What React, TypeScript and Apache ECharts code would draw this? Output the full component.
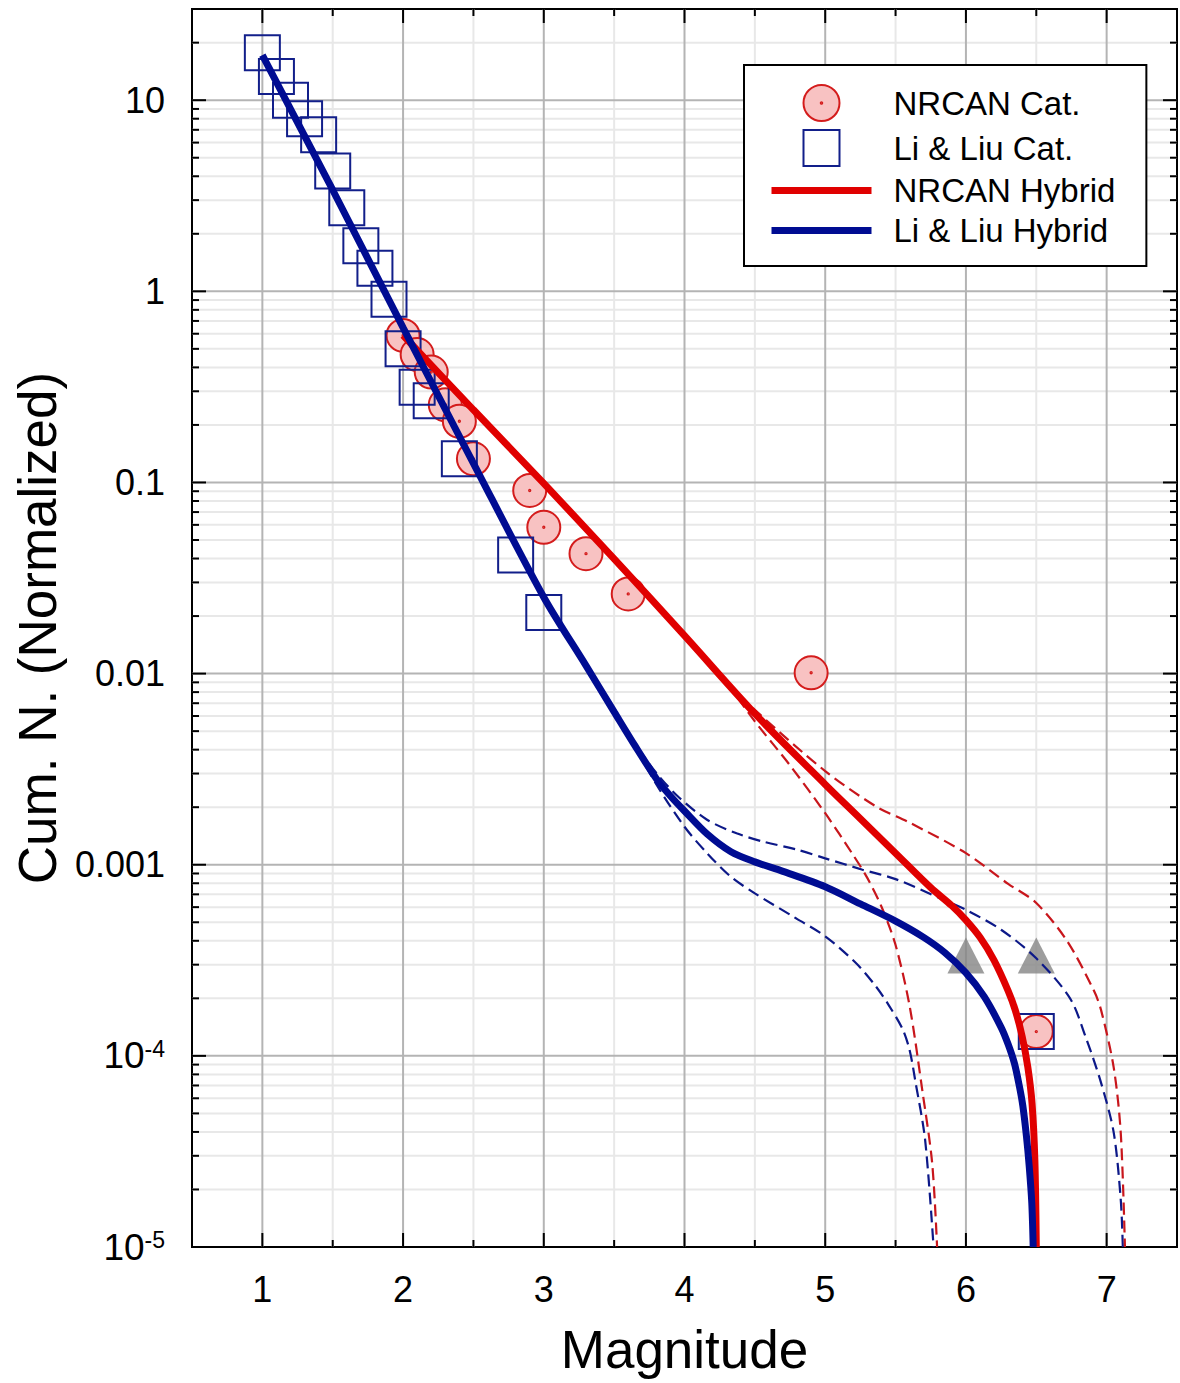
import React, { useEffect, useRef } from "react";
import * as echarts from "echarts";

// ---- Catalogue points (magnitude, normalised cumulative count) ----
const nrcanCatMag = [2.0, 2.1, 2.2, 2.3, 2.4, 2.5, 2.9, 3.0, 3.3, 3.6, 4.9, 6.5];
const nrcanCatN = [0.588, 0.467, 0.378, 0.255, 0.209, 0.133, 0.0908, 0.0583, 0.0424, 0.0261, 0.0101, 0.000134];

const liLiuCatMag = [1.0, 1.1, 1.2, 1.3, 1.4, 1.5, 1.6, 1.7, 1.8, 1.9, 2.0, 2.1, 2.2, 2.4, 2.8, 3.0, 6.5];
const liLiuCatN = [17.7, 13.3, 10.0, 8.0, 6.6, 4.26, 2.74, 1.73, 1.32, 0.91, 0.5, 0.315, 0.268, 0.133, 0.0417, 0.0209, 0.000134];

const paleoMag = [6.0, 6.5];
const paleoN = [0.000335, 0.000335];

// ---- Hybrid recurrence curves ----
const nrcanHybridMag = [2.0, 2.5, 3.0, 3.5, 4.0, 4.5, 5.0, 5.25, 5.5, 5.75, 5.9, 6.0, 6.1, 6.2, 6.3, 6.35, 6.4, 6.44, 6.47, 6.49, 6.5];
const nrcanHybridN = [0.589, 0.24, 0.0989, 0.0398, 0.0158, 0.00617, 0.00263, 0.00174, 0.00115, 0.000759, 0.00061, 0.000513, 0.000417, 0.000316, 0.000219, 0.000174, 0.000126, 0.0000871, 0.0000562, 0.0000282, 0.00001];

const nrcanLowMag = [4.05, 4.3, 4.5, 4.75, 5.0, 5.2, 5.3, 5.4, 5.5, 5.6, 5.69, 5.76, 5.795];
const nrcanLowN = [0.0146, 0.00891, 0.00562, 0.00331, 0.00186, 0.00112, 0.000851, 0.000603, 0.00038, 0.000182, 0.000066, 0.0000275, 0.00001];

const nrcanHighMag = [4.05, 4.3, 4.5, 5.0, 5.36, 5.6, 6.0, 6.3, 6.5, 6.72, 6.91, 6.96, 7.05, 7.1, 7.13];
const nrcanHighN = [0.0146, 0.00912, 0.00646, 0.00309, 0.00202, 0.00166, 0.00115, 0.000794, 0.000631, 0.000398, 0.000219, 0.000174, 0.0000871, 0.0000398, 0.00001];

const liLiuHybridMag = [1.0, 1.5, 2.0, 2.5, 3.0, 3.3, 3.5, 3.65, 3.8, 3.9, 4.0, 4.16, 4.33, 4.5, 4.7, 5.0, 5.25, 5.5, 5.7, 5.85, 6.0, 6.13, 6.25, 6.3, 6.345, 6.38, 6.404, 6.43, 6.45, 6.468, 6.478];
const liLiuHybridN = [17.2, 3.39, 0.646, 0.126, 0.0251, 0.011, 0.00631, 0.00417, 0.00282, 0.00229, 0.00191, 0.00145, 0.00117, 0.001035, 0.000923, 0.000767, 0.000624, 0.000507, 0.000417, 0.000347, 0.000272, 0.000204, 0.000141, 0.000115, 0.0000912, 0.0000692, 0.000055, 0.000038, 0.0000263, 0.000017, 0.00001];

const liLiuHighMag = [3.6, 3.8, 3.95, 4.16, 4.37, 4.56, 4.8, 5.0, 5.265, 5.5, 5.83, 6.0, 6.25, 6.5, 6.74, 6.85, 6.96, 7.05, 7.1, 7.115];
const liLiuHighN = [0.0048, 0.00302, 0.00229, 0.00172, 0.00146, 0.00132, 0.0012, 0.00108, 0.000942, 0.000841, 0.000661, 0.000581, 0.000457, 0.000324, 0.0002, 0.000126, 0.0000724, 0.0000398, 0.0000178, 0.00001];

const liLiuLowMag = [3.6, 3.8, 4.0, 4.16, 4.325, 4.5, 4.77, 5.0, 5.22, 5.36, 5.45, 5.55, 5.6, 5.64, 5.71, 5.77];
const liLiuLowN = [0.0048, 0.00263, 0.00158, 0.00115, 0.000871, 0.000708, 0.000537, 0.000422, 0.000305, 0.000231, 0.000185, 0.000138, 0.000107, 0.0000741, 0.0000363, 0.00001];

// ---- Axes ----
const X_MIN = 0.5;
const X_MAX = 7.5;
const Y_MIN = 1e-5;
const Y_MAX = 30;
const xGridMag = [1, 1.5, 2, 2.5, 3, 3.5, 4, 4.5, 5, 5.5, 6, 6.5, 7];
const yDecades = [1e-4, 1e-3, 1e-2, 0.1, 1, 10];
const yTickExps = [-5, -4, -3, -2, -1, 0, 1];
const yTickText = ["{b|10}{s|-5}", "{b|10}{s|-4}", "0.001", "0.01", "0.1", "1", "10"];

const FONT = "'Liberation Sans', Arial, Helvetica, sans-serif";
const RED = "#e00000";
const BLUE = "#000c92";
const RED_DASH = "#c8161c";
const BLUE_DASH = "#0c1888";
const MAJOR_GRID = "#b4b4b4";
const MINOR_GRID = "#e8e8e8";

const CIRCLE_DOT =
  "path://M0,-10A10,10,0,1,1,0,10A10,10,0,1,1,0,-10ZM0,-0.4A0.4,0.4,0,1,1,0,0.4A0.4,0.4,0,1,1,0,-0.4Z";
const SQUARE = "path://M0,0H10V10H0Z";

const pairs = (xs: number[], ys: number[]) => xs.map((x, i) => [x, ys[i]]);

// grid lines: [x, y, kind] kind 0 minor-h, 1 minor-v, 2 major-h, 3 major-v
function gridLineData() {
  const minorH: number[][] = [];
  [1e-5, 1e-4, 1e-3, 1e-2, 0.1, 1, 10].forEach((d) => {
    [2, 3, 4, 5, 6, 7, 8, 9].forEach((k) => {
      const v = k * d;
      if (v < Y_MAX) minorH.push([1, v, 0]);
    });
  });
  const minorV = xGridMag.filter((m) => !Number.isInteger(m)).map((m) => [m, 1, 1]);
  const majorH = yDecades.map((v) => [1, v, 2]);
  const majorV = xGridMag.filter((m) => Number.isInteger(m)).map((m) => [m, 1, 3]);
  return [...minorH, ...minorV, ...majorH, ...majorV];
}

function renderGridLine(_params: any, api: any) {
  const kind = api.value(2);
  const major = kind >= 2;
  const color = major ? MAJOR_GRID : MINOR_GRID;
  const len = major ? 14 : 7;
  const tick = { stroke: "#000", lineWidth: 2 };
  if (kind === 0 || kind === 2) {
    const v = api.value(1);
    const l = api.coord([X_MIN, v]);
    const r = api.coord([X_MAX, v]);
    return {
      type: "group",
      children: [
        { type: "line", shape: { x1: l[0], y1: l[1], x2: r[0], y2: r[1] }, style: { stroke: color, lineWidth: 2 } },
        { type: "line", shape: { x1: l[0], y1: l[1], x2: l[0] + len, y2: l[1] }, style: tick },
        { type: "line", shape: { x1: r[0], y1: r[1], x2: r[0] - len, y2: r[1] }, style: tick },
      ],
    };
  }
  const m = api.value(0);
  const t = api.coord([m, Y_MAX]);
  const b = api.coord([m, Y_MIN]);
  return {
    type: "group",
    children: [
      { type: "line", shape: { x1: t[0], y1: t[1], x2: b[0], y2: b[1] }, style: { stroke: color, lineWidth: 2 } },
      { type: "line", shape: { x1: b[0], y1: b[1], x2: b[0], y2: b[1] - len }, style: tick },
      { type: "line", shape: { x1: t[0], y1: t[1], x2: t[0], y2: t[1] + len }, style: tick },
    ],
  };
}

function yLabel(v: number) {
  const lv = Math.log10(v);
  const e = Math.round(lv);
  if (Math.abs(lv - e) > 0.01) return "";
  const i = yTickExps.indexOf(e);
  return i < 0 ? "" : yTickText[i];
}

const curve = (name: string, xs: number[], ys: number[], color: string, width: number, z: number, dash?: number[]) => ({
  name,
  type: "line",
  data: pairs(xs, ys),
  symbol: "none",
  showSymbol: false,
  smooth: 0.3,
  lineStyle: { color, width, type: dash ?? "solid" },
  itemStyle: { color },
  z,
  silent: true,
});

export default function App() {
  const ref = useRef<HTMLDivElement>(null);

  useEffect(() => {
    const chart = echarts.init(ref.current!, null, { renderer: "svg" });
    chart.setOption({
      animation: false,
      backgroundColor: "#ffffff",
      textStyle: { fontFamily: FONT },
      grid: {
        left: 192,
        top: 9,
        right: -2,
        bottom: 136,
        show: true,
        borderColor: "#000",
        borderWidth: 2,
        backgroundColor: "transparent",
      },
      xAxis: {
        type: "value",
        min: X_MIN,
        max: X_MAX,
        interval: 0.5,
        axisLine: { show: false },
        axisTick: { show: false },
        splitLine: { show: false },
        axisLabel: {
          formatter: (v: number) => (Number.isInteger(v) && v >= 1 && v <= 7 ? String(v) : ""),
          fontSize: 36,
          fontFamily: FONT,
          color: "#000",
          margin: 24,
        },
        name: "Magnitude",
        nameLocation: "middle",
        nameGap: 76,
        nameTextStyle: { fontSize: 53, fontFamily: FONT, color: "#000" },
      },
      yAxis: {
        type: "log",
        logBase: 10,
        min: Y_MIN,
        max: Y_MAX,
        splitNumber: 7,
        axisLine: { show: false },
        axisTick: { show: false },
        splitLine: { show: false },
        axisLabel: {
          formatter: yLabel,
          showMaxLabel: false,
          fontSize: 36,
          fontFamily: FONT,
          color: "#000",
          margin: 27,
          rich: {
            b: { fontSize: 37, fontFamily: FONT, color: "#000" },
            s: { fontSize: 23, fontFamily: FONT, color: "#000", verticalAlign: "top" },
          },
        },
        name: "Cum. N. (Normalized)",
        nameLocation: "middle",
        nameGap: 124,
        nameTextStyle: { fontSize: 53, fontFamily: FONT, color: "#000" },
      },
      legend: {
        orient: "vertical",
        left: 744,
        top: 65,
        padding: [19, 31, 19, 24],
        itemGap: 7,
        itemWidth: 100,
        itemHeight: 36,
        borderColor: "#000",
        borderWidth: 2,
        backgroundColor: "#fff",
        selectedMode: false,
        lineStyle: { width: 7 },
        textStyle: { fontSize: 33, fontFamily: FONT, color: "#000", padding: [0, 0, 0, 17] },
        data: [
          "NRCAN Cat.",
          "Li & Liu Cat.",
          { name: "NRCAN Hybrid", itemStyle: { opacity: 0 } },
          { name: "Li & Liu Hybrid", itemStyle: { opacity: 0 } },
        ],
      },
      series: [
        {
          name: "grid",
          type: "custom",
          data: gridLineData(),
          renderItem: renderGridLine,
          silent: true,
          z: 1,
        },
        {
          name: "NRCAN Cat.",
          type: "scatter",
          data: pairs(nrcanCatMag, nrcanCatN),
          symbol: CIRCLE_DOT,
          symbolSize: 33,
          itemStyle: { color: "#f8c2c2", borderColor: "#d41c1c", borderWidth: 2, opacity: 1 },
          z: 2,
          silent: true,
        },
        {
          name: "Li & Liu Cat.",
          type: "scatter",
          data: pairs(liLiuCatMag, liLiuCatN),
          symbol: SQUARE,
          symbolSize: 35,
          itemStyle: { color: "rgba(255,255,255,0)", borderColor: "#121f8a", borderWidth: 2, opacity: 1 },
          z: 2,
          silent: true,
        },
        {
          name: "Paleo",
          type: "scatter",
          data: pairs(paleoMag, paleoN),
          symbol: "triangle",
          symbolSize: [37, 36],
          itemStyle: { color: "#858585" },
          z: 3,
          silent: true,
        },
        curve("Li & Liu upper", liLiuHighMag, liLiuHighN, BLUE_DASH, 2.2, 4, [12, 6]),
        curve("Li & Liu lower", liLiuLowMag, liLiuLowN, BLUE_DASH, 2.2, 4, [12, 6]),
        curve("NRCAN upper", nrcanHighMag, nrcanHighN, RED_DASH, 2.2, 4, [12, 6]),
        curve("NRCAN lower", nrcanLowMag, nrcanLowN, RED_DASH, 2.2, 4, [12, 6]),
        curve("NRCAN Hybrid", nrcanHybridMag, nrcanHybridN, RED, 7, 5),
        curve("Li & Liu Hybrid", liLiuHybridMag, liLiuHybridN, BLUE, 7, 6),
      ],
    });
    return () => chart.dispose();
  }, []);

  return (
    <div
      ref={ref}
      style={{ position: "absolute", left: 0, top: 0, width: 1180, height: 1383, background: "#fff" }}
    />
  );
}
